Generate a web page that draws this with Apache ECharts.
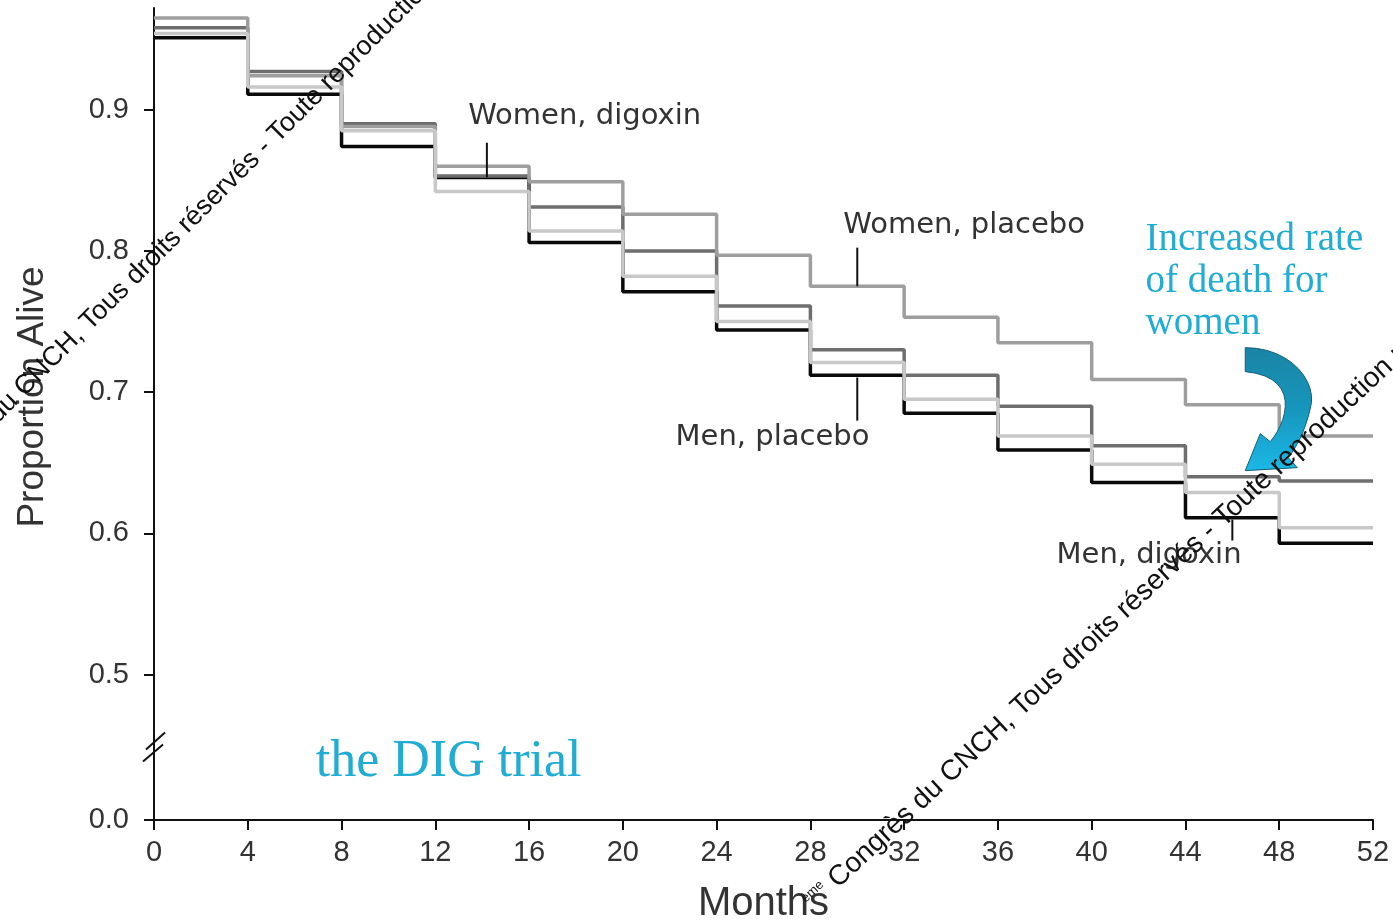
<!DOCTYPE html>
<html><head><meta charset="utf-8">
<script src="https://cdn.jsdelivr.net/npm/echarts@6/dist/echarts.min.js"></script>
<style>html,body{margin:0;padding:0;background:#fff}#c{width:1393px;height:923px}</style>
</head><body><div id="c"></div>
<script>
// ---- data ----
const months = [0,4,8,12,16,20,24,28,32,36,40,44,48,52];
const womenPlacebo = [0.965,0.924,0.888,0.860,0.849,0.826,0.797,0.775,0.753,0.735,0.709,0.691,0.669,0.669];
const womenDigoxin = [0.958,0.927,0.890,0.853,0.831,0.800,0.761,0.730,0.712,0.690,0.662,0.640,0.637,0.637];
const menPlacebo   = [0.954,0.916,0.885,0.842,0.814,0.782,0.750,0.721,0.695,0.669,0.649,0.629,0.604,0.604];
const menDigoxin   = [0.951,0.911,0.874,0.852,0.806,0.771,0.744,0.712,0.685,0.659,0.636,0.611,0.593,0.593];
const xTickValues = [0,4,8,12,16,20,24,28,32,36,40,44,48,52];
// axis is broken: bottom value stands for 0.0
const yBottom = 0.397, yTop = 0.972;
const yTickValues = [0.397,0.5,0.6,0.7,0.8,0.9];
const yTickLabels = ['0.0','0.5','0.6','0.7','0.8','0.9'];
const seriesNames = ['Men, digoxin','Women, digoxin','Women, placebo','Men, placebo'];
const xTitle = 'Months', yTitle = 'Proportion Alive';
// labels: [text, month, proportion] (left-middle anchor)
const labelTexts = [
  ['Women, digoxin', 13.4, 0.895],
  ['Women, placebo', 29.4, 0.818],
  ['Men, placebo', 22.25, 0.668],
  ['Men, digoxin', 38.5, 0.584]
];
// pointer ticks: [month, from, to]
const pointers = [
  [14.2, 0.8766, 0.852],
  [30.0, 0.8023, 0.775],
  [30.0, 0.7103, 0.6798],
  [46.0, 0.6097, 0.5949]
];
const noteLines = ['Increased rate','of death for','women'];
const noteAnchor = [42.3, 0.808];
const trialText = 'the DIG trial';
const trialAnchor = [6.9, 0.4377];
const breakAt = 0.4504;
const arrowAnchor = [46.55, 0.7315];
const watermark = 'Congrès du CNCH, Tous droits réservés - Toute reproduction même partielle est interdite';

function pairs(vals){ return months.map((m,i)=>[m, vals[i]]); }

const chart = echarts.init(document.getElementById('c'), null, {renderer:'canvas'});
const lineStyle = (c,w)=>({color:c, width:w});
chart.setOption({
  backgroundColor:'#fff',
  animation:false,
  grid:{left:154, right:20, top:8, bottom:103, containLabel:false, outerBoundsMode:'none'},
  xAxis:{
    type:'value', min:0, max:52, interval:4,
    name:xTitle, nameLocation:'middle', nameGap:64,
    nameTextStyle:{fontFamily:'Liberation Sans', fontSize:40, color:'#333'},
    axisLine:{lineStyle:{color:'#111', width:2}},
    axisTick:{show:true, length:10, lineStyle:{color:'#111', width:2}},
    axisLabel:{fontFamily:'Liberation Sans', fontSize:29, color:'#333', margin:18,
      customValues:xTickValues, formatter:v=>String(v)},
    splitLine:{show:false}
  },
  yAxis:{
    type:'value', min:yBottom, max:yTop,
    axisLine:{show:true, lineStyle:{color:'#111', width:2}},
    axisTick:{show:true, length:10, lineStyle:{color:'#111', width:2}, customValues:yTickValues},
    axisLabel:{fontFamily:'Liberation Sans', fontSize:29, color:'#333', margin:25,
      customValues:yTickValues,
      formatter:v=>{const i=yTickValues.findIndex(t=>Math.abs(t-v)<1e-6); return i>=0?yTickLabels[i]:'';}},
    splitLine:{show:false}
  },
  series:[
    {name:seriesNames[0], type:'line', step:'end', data:pairs(menDigoxin), symbol:'none', lineStyle:lineStyle('#0a0a0a',3.5), z:2},
    {name:seriesNames[1], type:'line', step:'end', data:pairs(womenDigoxin), symbol:'none', lineStyle:lineStyle('#6e6e6e',3.5), z:3},
    {name:seriesNames[2], type:'line', step:'end', data:pairs(womenPlacebo), symbol:'none', lineStyle:lineStyle('#9e9e9e',3.5), z:4},
    {name:seriesNames[3], type:'line', step:'end', data:pairs(menPlacebo), symbol:'none', lineStyle:lineStyle('#c8c8c8',3.5), z:5}
  ]
});

function px(x,y){ return chart.convertToPixel({gridIndex:0},[x,y]); }
function cubic(p0,p1,p2,p3,n){const o=[];for(let i=1;i<=n;i++){const t=i/n,u=1-t;o.push([u*u*u*p0[0]+3*u*u*t*p1[0]+3*u*t*t*p2[0]+t*t*t*p3[0],u*u*u*p0[1]+3*u*u*t*p1[1]+3*u*t*t*p2[1]+t*t*t*p3[1]]);}return o;}
function quad(p0,p1,p2,n){const o=[];for(let i=1;i<=n;i++){const t=i/n,u=1-t;o.push([u*u*p0[0]+2*u*t*p1[0]+t*t*p2[0],u*u*p0[1]+2*u*t*p1[1]+t*t*p2[1]]);}return o;}
const g = [];
// y axis title
{
  const top = px(0, yTop), bot = px(0, yBottom);
  g.push({type:'text', x:33, y:(top[1]+bot[1])/2 - 17, rotation:Math.PI/2, z:20,
    style:{text:yTitle, fontFamily:'Liberation Sans', fontSize:37, fill:'#333', align:'center', verticalAlign:'middle'}});
}
labelTexts.forEach(([t,m,v])=>{
  const p = px(m,v);
  g.push({type:'text', x:p[0], y:p[1], z:20, style:{text:t, fontFamily:'DejaVu Sans', fontSize:29, fill:'#333', align:'left', verticalAlign:'middle'}});
});
pointers.forEach(([m,a,b])=>{
  const p1=px(m,a), p2=px(m,b);
  g.push({type:'line', z:20, shape:{x1:p1[0],y1:p1[1],x2:p2[0],y2:p2[1]}, style:{stroke:'#111', lineWidth:2}});
});
{
  const p = px(noteAnchor[0], noteAnchor[1]);
  noteLines.forEach((t,i)=>{
    g.push({type:'text', x:p[0], y:p[1]+i*42, z:20, style:{text:t, fontFamily:'Liberation Serif', fontSize:39, fill:'#20acd3', align:'left', verticalAlign:'middle'}});
  });
}
{
  const p = px(trialAnchor[0], trialAnchor[1]);
  g.push({type:'text', x:p[0], y:p[1], z:20, style:{text:trialText, fontFamily:'Liberation Serif', fontSize:52, fill:'#20acd3', align:'left', verticalAlign:'middle'}});
}
{
  const p = px(0, breakAt);
  g.push({type:'line', z:20, shape:{x1:p[0]-8,y1:p[1]+5,x2:p[0]+11,y2:p[1]-12}, style:{stroke:'#111', lineWidth:2}});
  g.push({type:'line', z:20, shape:{x1:p[0]-11,y1:p[1]+17,x2:p[0]+9,y2:p[1]}, style:{stroke:'#111', lineWidth:2}});
}
{
  const p = px(arrowAnchor[0], arrowAnchor[1]);
  let pts = [[0,0]];
  pts = pts.concat(cubic([0,0],[47,0],[73,36],[65,61],12));
  pts = pts.concat(quad([65,61],[58,91],[43,110],8));
  pts.push([52,120],[0,123],[15,86],[25,94]);
  pts = pts.concat(cubic([25,94],[43,73],[55,29],[0,24],14));
  g.push({type:'polygon', x:p[0], y:p[1], z:22,
    shape:{points:pts},
    style:{fill:{type:'linear',x:0,y:0,x2:0,y2:1,colorStops:[{offset:0,color:'#1a84a4'},{offset:0.5,color:'#1796bd'},{offset:1,color:'#1bb8e6'}]}, stroke:'#145f78', lineWidth:1}});
}
// small black watermark text
g.push({type:'text', x:2, y:428, rotation:45*Math.PI/180, z:30,
  style:{text:'du CNCH, Tous droits réservés - Toute reproduction même partielle est interdite', fontFamily:'Liberation Sans', fontSize:27, fill:'#111', align:'left', verticalAlign:'bottom'}});
g.push({type:'text', x:818, y:916, rotation:43.1*Math.PI/180, z:30,
  style:{text:'{s|ème} ' + watermark, fontFamily:'Liberation Sans', fontSize:28.2, fill:'#111', align:'left', verticalAlign:'bottom',
    rich:{s:{fontSize:13, fontFamily:'Liberation Sans', fill:'#111', verticalAlign:'top'}}}});
chart.setOption({graphic:g});
</script>
</body></html>
